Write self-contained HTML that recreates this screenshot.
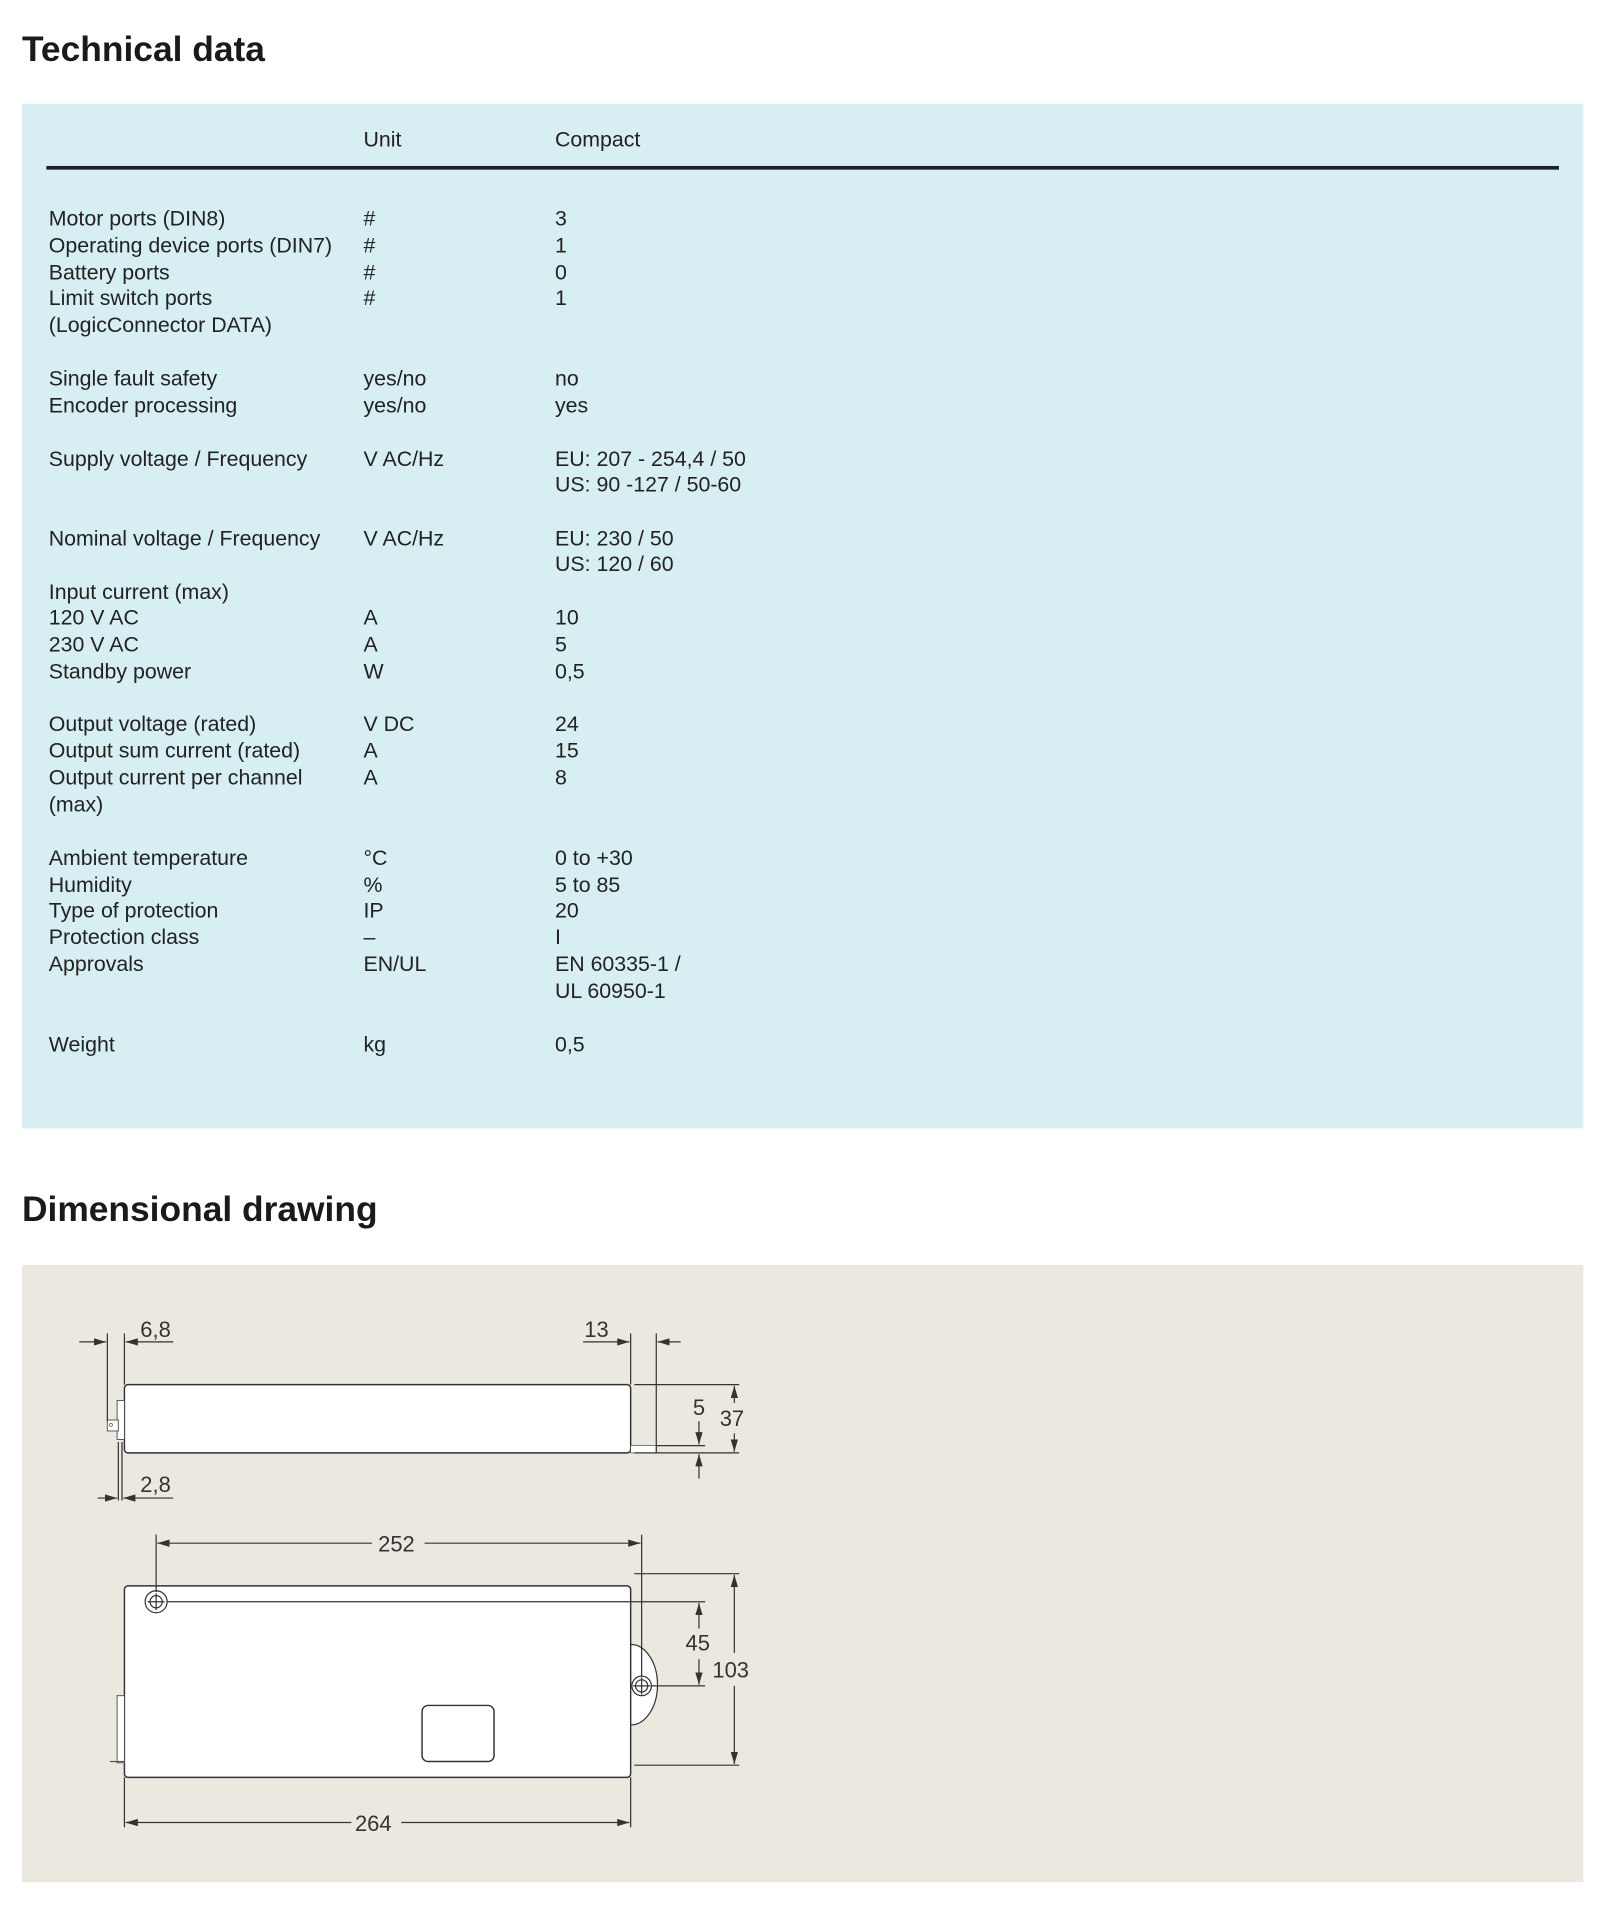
<!DOCTYPE html>
<html><head><meta charset="utf-8"><style>
html,body{margin:0;padding:0;background:#fff;}
svg{display:block;}
.t{font-family:"Liberation Sans",sans-serif;font-size:17.5px;fill:#222;}
.h{font-family:"Liberation Sans",sans-serif;font-size:29px;font-weight:bold;fill:#1a1a1a;}
.d{font-family:"Liberation Sans",sans-serif;font-size:18px;fill:#333;}
.l{stroke:#333;stroke-width:1;fill:none;}
</style></head><body>
<svg width="1598" height="1908" viewBox="0 0 1310 1564" xmlns="http://www.w3.org/2000/svg">
<defs>
<marker id="a" viewBox="0 0 10 6" refX="10" refY="3" markerWidth="10" markerHeight="6" orient="auto" markerUnits="userSpaceOnUse"><path d="M0,0 L10,3 L0,6z" fill="#333"/></marker>
</defs>
<rect width="1310" height="1564" fill="#fff"/>
<text class="h" x="18" y="50">Technical data</text>
<rect x="18" y="85" width="1280" height="840" fill="#d7eef2"/>
<text class="t" x="298" y="120">Unit</text>
<text class="t" x="455" y="120">Compact</text>
<rect x="38" y="136" width="1240" height="3" fill="#1c2226"/>
<g class="t">
<text x="40" y="185">Motor ports (DIN8)</text><text x="298" y="185">#</text><text x="455" y="185">3</text>
<text x="40" y="207">Operating device ports (DIN7)</text><text x="298" y="207">#</text><text x="455" y="207">1</text>
<text x="40" y="229">Battery ports</text><text x="298" y="229">#</text><text x="455" y="229">0</text>
<text x="40" y="250">Limit switch ports</text><text x="298" y="250">#</text><text x="455" y="250">1</text>
<text x="40" y="272">(LogicConnector DATA)</text>
<text x="40" y="316">Single fault safety</text><text x="298" y="316">yes/no</text><text x="455" y="316">no</text>
<text x="40" y="338">Encoder processing</text><text x="298" y="338">yes/no</text><text x="455" y="338">yes</text>
<text x="40" y="382">Supply voltage / Frequency</text><text x="298" y="382">V AC/Hz</text><text x="455" y="382">EU: 207 - 254,4 / 50</text>
<text x="455" y="403">US: 90 -127 / 50-60</text>
<text x="40" y="447">Nominal voltage / Frequency</text><text x="298" y="447">V AC/Hz</text><text x="455" y="447">EU: 230 / 50</text>
<text x="455" y="468">US: 120 / 60</text>
<text x="40" y="491">Input current (max)</text>
<text x="40" y="512">120 V AC</text><text x="298" y="512">A</text><text x="455" y="512">10</text>
<text x="40" y="534">230 V AC</text><text x="298" y="534">A</text><text x="455" y="534">5</text>
<text x="40" y="556">Standby power</text><text x="298" y="556">W</text><text x="455" y="556">0,5</text>
<text x="40" y="599">Output voltage (rated)</text><text x="298" y="599">V DC</text><text x="455" y="599">24</text>
<text x="40" y="621">Output sum current (rated)</text><text x="298" y="621">A</text><text x="455" y="621">15</text>
<text x="40" y="643">Output current per channel</text><text x="298" y="643">A</text><text x="455" y="643">8</text>
<text x="40" y="665">(max)</text>
<text x="40" y="709">Ambient temperature</text><text x="298" y="709">°C</text><text x="455" y="709">0 to +30</text>
<text x="40" y="731">Humidity</text><text x="298" y="731">%</text><text x="455" y="731">5 to 85</text>
<text x="40" y="752">Type of protection</text><text x="298" y="752">IP</text><text x="455" y="752">20</text>
<text x="40" y="774">Protection class</text><text x="298" y="774">–</text><text x="455" y="774">I</text>
<text x="40" y="796">Approvals</text><text x="298" y="796">EN/UL</text><text x="455" y="796">EN 60335-1 /</text>
<text x="455" y="818">UL 60950-1</text>
<text x="40" y="862">Weight</text><text x="298" y="862">kg</text><text x="455" y="862">0,5</text>
</g>
<text class="h" x="18" y="1001">Dimensional drawing</text>
<rect x="18" y="1037" width="1280" height="506" fill="#ebe9df"/>
<!-- side view -->
<rect x="102" y="1135" width="415" height="56" rx="3" fill="#fff" stroke="#333" stroke-width="1.2"/>
<rect x="96" y="1148" width="6" height="32" fill="#fff" stroke="#555" stroke-width="0.8"/>
<rect x="88" y="1164" width="9" height="9" fill="#fff" stroke="#555" stroke-width="0.8"/>
<circle cx="91" cy="1168" r="1.2" fill="none" stroke="#555" stroke-width="0.6"/>
<rect x="517" y="1185" width="21" height="6" fill="#fff" stroke="#555" stroke-width="0.6"/>
<g class="l">
<path d="M88,1093V1165M102,1093V1135M100,1182V1230M97,1182V1230"/>
<path d="M65,1100H87" marker-end="url(#a)"/>
<path d="M142,1100H103" marker-end="url(#a)"/>
<path d="M80,1228H96" marker-end="url(#a)"/>
<path d="M142,1228H101" marker-end="url(#a)"/>
<path d="M478,1100H516" marker-end="url(#a)"/>
<path d="M517,1093V1135M538,1093V1191"/>
<path d="M558,1100H539" marker-end="url(#a)"/>
<path d="M520,1135H606M538,1185H578M520,1191H606"/>
<path d="M573,1165V1184" marker-end="url(#a)"/>
<path d="M573,1212V1192" marker-end="url(#a)"/>
<path d="M602,1150V1136" marker-end="url(#a)"/>
<path d="M602,1175V1190" marker-end="url(#a)"/>
</g>
<g class="d">
<text x="115" y="1096">6,8</text>
<text x="115" y="1223">2,8</text>
<text x="479" y="1096">13</text>
<text x="568" y="1160">5</text>
<text x="590" y="1169">37</text>
</g>
<!-- top view -->
<path d="M517,1348 A22,33 0 0 1 517,1414" fill="#fff" stroke="#333" stroke-width="1"/>
<rect x="102" y="1300" width="415" height="157" rx="3" fill="#fff" stroke="#333" stroke-width="1.2"/>
<rect x="96" y="1390" width="6" height="55" fill="#fff" stroke="#555" stroke-width="0.8"/>
<path d="M90,1444H102" stroke="#555" stroke-width="1"/>
<rect x="346" y="1398" width="59" height="46" rx="5" fill="#fff" stroke="#333" stroke-width="1.2"/>
<g fill="none" stroke="#333" stroke-width="1">
<circle cx="128" cy="1313" r="9"/><circle cx="128" cy="1313" r="5"/>
<path d="M121,1313H135M128,1306V1320"/>
<circle cx="526" cy="1382" r="8"/><circle cx="526" cy="1382" r="5"/>
<path d="M519,1382H533M526,1375V1389"/>
</g>
<g class="l">
<path d="M128,1258V1305M526,1258V1374"/>
<path d="M305,1265H129" marker-end="url(#a)"/>
<path d="M348,1265H525" marker-end="url(#a)"/>
<path d="M137,1313H578M534,1382H578"/>
<path d="M520,1290H606M520,1447H606"/>
<path d="M573,1335V1314" marker-end="url(#a)"/>
<path d="M573,1360V1381" marker-end="url(#a)"/>
<path d="M602,1355V1291" marker-end="url(#a)"/>
<path d="M602,1382V1446" marker-end="url(#a)"/>
<path d="M102,1457V1498M517,1457V1498"/>
<path d="M288,1494H103" marker-end="url(#a)"/>
<path d="M329,1494H516" marker-end="url(#a)"/>
</g>
<g class="d">
<text x="310" y="1272">252</text>
<text x="562" y="1353">45</text>
<text x="584" y="1375">103</text>
<text x="291" y="1501">264</text>
</g>
</svg>
</body></html>
